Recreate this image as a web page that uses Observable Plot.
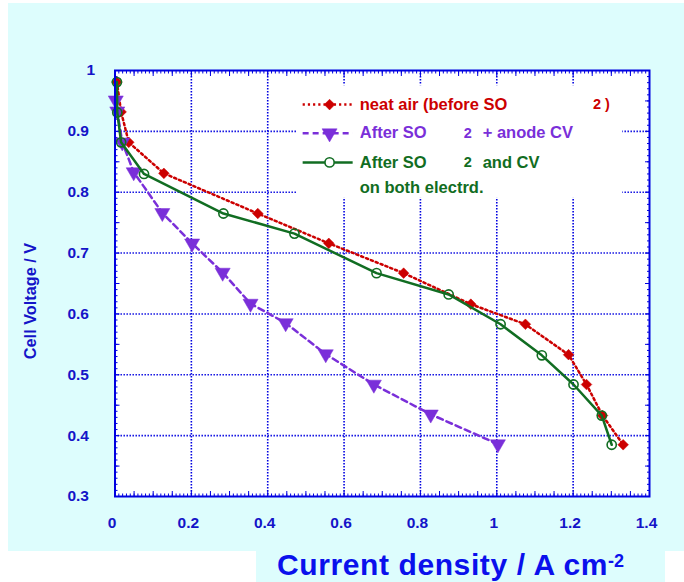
<!DOCTYPE html>
<html>
<head>
<meta charset="utf-8">
<script src="https://cdn.jsdelivr.net/npm/d3@7"></script>
<script src="https://cdn.jsdelivr.net/npm/@observablehq/plot@0.6"></script>
<style>
  html, body { margin: 0; padding: 0; background: #ffffff; }
  #wrap { position: relative; width: 684px; height: 582px; overflow: hidden; background: #ffffff; }
  #chart { position: absolute; left: 8px; top: 3px; }
  #ytitle { position: absolute; left: 30px; top: 301px; transform: translate(-50%, -50%) rotate(-90deg);
    white-space: nowrap; font-family: "Liberation Sans", Arial, sans-serif; font-weight: bold; font-size: 16.3px;
    line-height: 18px; color: #1414c8; }
  #xtitle { position: absolute; left: 256px; top: 551px; width: 409px; height: 31px; background: #ddfdfd; }
  #xtitle span.main { position: absolute; left: 21px; top: 0px; line-height: 28px; white-space: nowrap; letter-spacing: 0.6px;
    font-family: "Liberation Sans", Arial, sans-serif; font-weight: bold; font-size: 30px; color: #0a10ec; }
  #xtitle sup { font-size: 18px; position: relative; top: -8px; vertical-align: baseline; letter-spacing: 0; }
</style>
</head>
<body>
<div id="wrap">
  <div id="chart"></div>
  <div id="ytitle">Cell Voltage / V</div>
  <div id="xtitle"><span class="main">Current density / A cm<sup>-2</sup></span></div>
</div>
<script>
// ---- data ----
const neatX  = [0.005, 0.016, 0.036, 0.128, 0.374, 0.560, 0.756, 0.932, 1.075, 1.188, 1.235, 1.277, 1.331];
const neatV  = [0.981, 0.932, 0.882, 0.831, 0.765, 0.716, 0.667, 0.616, 0.583, 0.533, 0.484, 0.433, 0.385];

const anodeX = [0.002, 0.006, 0.019, 0.049, 0.124, 0.202, 0.282, 0.355, 0.447, 0.552, 0.678, 0.827, 1.003];
const anodeV = [0.951, 0.933, 0.882, 0.833, 0.766, 0.716, 0.668, 0.617, 0.585, 0.534, 0.484, 0.435, 0.386];

const bothX  = [0.005, 0.006, 0.016, 0.076, 0.284, 0.470, 0.685, 0.874, 1.010, 1.118, 1.201, 1.275, 1.301];
const bothV  = [0.981, 0.931, 0.882, 0.830, 0.765, 0.732, 0.667, 0.632, 0.583, 0.532, 0.484, 0.433, 0.385];

const xTickValues = [0, 0.2, 0.4, 0.6, 0.8, 1, 1.2, 1.4];
const xTickLabels = ["0", "0.2", "0.4", "0.6", "0.8", "1", "1.2", "1.4"];
const yTickValues = [0.3, 0.4, 0.5, 0.6, 0.7, 0.8, 0.9];
const yTickLabels = ["0.3", "0.4", "0.5", "0.6", "0.7", "0.8", "0.9"];
const yTopValue = [1];
const yTopLabel = ["1"];
const xGrid = [0.2, 0.4, 0.6, 0.8, 1, 1.2];
const yGrid = [0.4, 0.5, 0.6, 0.7, 0.8, 0.9];
const xMinor = d3.range(0, 141).map(i => i / 100);
const xMid   = d3.range(0, 29).map(i => i / 20);
const yMinor = d3.range(30, 101).map(i => i / 100);
const yMid   = d3.range(6, 21).map(i => i / 20);

// ---- styles ----
const BLUE = "#0000e0";
const TXT = "#1414c8";
const RED = "#cc0000";
const PURPLE = "#7a2fd9";
const GREEN = "#116d22";
const FONT = "'Liberation Sans', Arial, sans-serif";
const LFS = 16.5;   // legend font size
const LFS2 = 14.5;  // legend "2" size

const neat  = neatX.map((x, i) => ({x, v: neatV[i]}));
const anode = anodeX.map((x, i) => ({x, v: anodeV[i]}));
const both  = bothX.map((x, i) => ({x, v: bothV[i]}));

// legend layout (in chart units)
const LX1 = 0.4915, LX2 = 0.6225, LM = 0.562, LT = 0.641;
const LY = [0.944, 0.897, 0.849, 0.808];
const legendBox = {x1: 0.478, x2: 1.330, y1: 0.790, y2: 0.975};

const tickAxis = (fn, anchor, ticks, size) => fn(ticks, {anchor, tickSize: -size, fill: "none", stroke: BLUE, strokeWidth: 1, label: null});
const ltext = (s, x, y, color, fs) => Plot.text([s], {x: () => x, y: () => y, text: d => d, textAnchor: "start", fill: color, fontSize: fs, fontWeight: "bold"});

const plot = Plot.plot({
  width: 676,
  height: 548,
  marginLeft: 106.5,
  marginRight: 35,
  marginTop: 67,
  marginBottom: 55,
  style: {background: "#ddfdfd", fontFamily: FONT, overflow: "visible"},
  x: {domain: [0, 1.4]},
  y: {domain: [0.3, 1]},
  marks: [
    Plot.frame({fill: "#ffffff", stroke: "none"}),
    Plot.gridX(xGrid, {stroke: BLUE, strokeOpacity: 1, strokeWidth: 1.6, strokeDasharray: "1.4,1.6"}),
    Plot.gridY(yGrid, {stroke: BLUE, strokeOpacity: 1, strokeWidth: 1.6, strokeDasharray: "1.4,1.6"}),
    Plot.rect([legendBox], {x1: "x1", x2: "x2", y1: "y1", y2: "y2", fill: "#ffffff"}),
    tickAxis(Plot.axisX, "bottom", xMinor, 2.5),
    tickAxis(Plot.axisX, "bottom", xMid, 5),
    tickAxis(Plot.axisX, "top", xMinor, 2.5),
    tickAxis(Plot.axisX, "top", xMid, 5),
    tickAxis(Plot.axisY, "left", yMinor, 3),
    tickAxis(Plot.axisY, "left", yMid, 5),
    tickAxis(Plot.axisY, "right", yMinor, 3),
    tickAxis(Plot.axisY, "right", yMid, 5),
    // series
    Plot.line(neat, {x: "x", y: "v", stroke: RED, strokeWidth: 2.5, strokeDasharray: "2.2,3"}),
    Plot.dot(neat, {x: "x", y: "v", symbol: "diamond2", r: 4.8, fill: RED, stroke: RED, strokeWidth: 0.5}),
    Plot.line(anode, {x: "x", y: "v", stroke: PURPLE, strokeWidth: 2.5, strokeDasharray: "6,4"}),
    Plot.dot(anode, {x: "x", y: "v", symbol: "triangle", rotate: 180, r: 5.6, fill: PURPLE, stroke: PURPLE, strokeWidth: 0.5}),
    Plot.line(both, {x: "x", y: "v", stroke: GREEN, strokeWidth: 2.5}),
    Plot.dot(both, {x: "x", y: "v", symbol: "circle", r: 4.6, fill: "none", stroke: GREEN, strokeWidth: 1.6}),
    // legend
    Plot.link([0], {x1: () => LX1, x2: () => LX2, y1: () => LY[0], y2: () => LY[0], stroke: RED, strokeWidth: 2.5, strokeDasharray: "2.2,3"}),
    Plot.dot([0], {x: () => LM, y: () => LY[0], symbol: "diamond2", r: 4.8, fill: RED, stroke: RED, strokeWidth: 0.5}),
    Plot.link([0], {x1: () => LX1, x2: () => LX2, y1: () => LY[1], y2: () => LY[1], stroke: PURPLE, strokeWidth: 2.5, strokeDasharray: "6,4"}),
    Plot.dot([0], {x: () => LM, y: () => LY[1], symbol: "triangle", rotate: 180, r: 5.6, fill: PURPLE, stroke: PURPLE, strokeWidth: 0.5}),
    Plot.link([0], {x1: () => LX1, x2: () => LX2, y1: () => LY[2], y2: () => LY[2], stroke: GREEN, strokeWidth: 2.5}),
    Plot.dot([0], {x: () => LM, y: () => LY[2], symbol: "circle", r: 4.6, fill: "#ffffff", stroke: GREEN, strokeWidth: 1.6}),
    ltext("neat air (before SO", LT, LY[0], RED, LFS),
    ltext("2 )", 1.252, LY[0], RED, LFS2),
    ltext("After SO", LT, LY[1], PURPLE, LFS),
    ltext("2", 0.9135, LY[1], PURPLE, LFS2),
    ltext("+ anode CV", 0.963, LY[1], PURPLE, LFS),
    ltext("After SO", LT, LY[2], GREEN, LFS),
    ltext("2", 0.9135, LY[2], GREEN, LFS2),
    ltext("and CV", 0.963, LY[2], GREEN, LFS),
    ltext("on both electrd.", LT, LY[3], GREEN, LFS),
    // frame
    Plot.frame({stroke: BLUE, strokeWidth: 2}),
    // tick labels
    Plot.axisX(xTickValues, {anchor: "bottom", tickSize: 0, tickPadding: 20, dx: -3, label: null,
      tickFormat: (d, i) => xTickLabels[i], fill: TXT, fontSize: 15.5, fontWeight: "bold"}),
    Plot.axisY(yTickValues, {anchor: "left", tickSize: 0, tickPadding: 26, label: null,
      tickFormat: (d, i) => yTickLabels[i], fill: TXT, fontSize: 15.5, fontWeight: "bold"}),
    Plot.axisY(yTopValue, {anchor: "left", tickSize: 0, tickPadding: 20, label: null,
      tickFormat: (d, i) => yTopLabel[i], fill: TXT, fontSize: 15.5, fontWeight: "bold"})
  ]
});
document.getElementById("chart").appendChild(plot);
</script>
</body>
</html>
